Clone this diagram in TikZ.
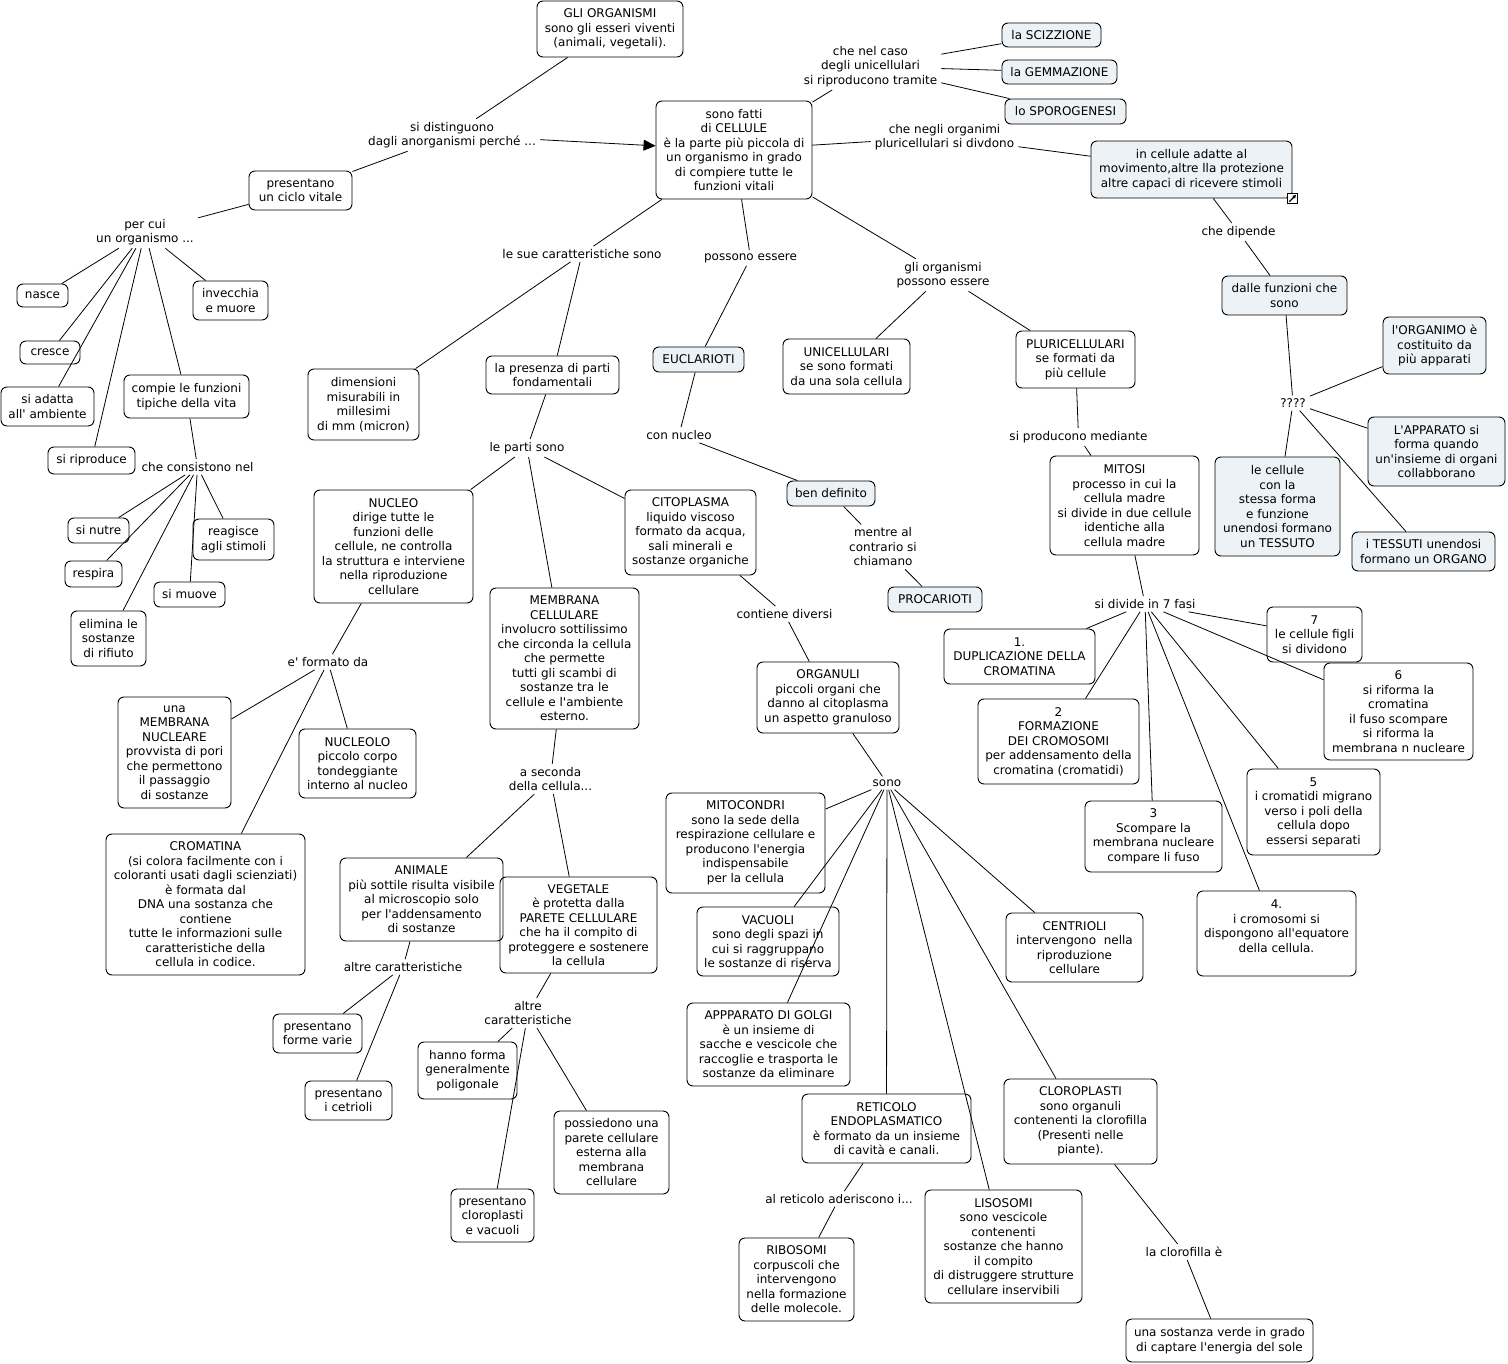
\documentclass[tikz,border=0pt]{standalone}
\usepackage{fontspec}
\setmainfont{DejaVu Sans}[Ligatures=TeXOff]
\usetikzlibrary{arrows.meta, positioning}
\definecolor{pale}{RGB}{236,242,245}

\begin{document}
\begin{tikzpicture}[
    x=1pt, y=-1pt,
    font=\fontsize{12}{14.5}\selectfont,
    box/.style={draw, rounded corners=6pt, line width=0.9pt, align=center, inner sep=1pt},
    pbox/.style={box, fill=pale},
    wh/.style 2 args={minimum width=#1pt, minimum height=#2pt},
    lnk/.style={align=center, inner xsep=4pt, inner ysep=3pt},
    ln/.style={line width=0.8pt},
    ar/.style={ln, -{Triangle[length=12pt, width=11pt]}}
]
\useasboundingbox (0,0) rectangle (1508,1364);

\node[box, wh={146}{56}] (gli) at (610,29) {GLI ORGANISMI\\sono gli esseri viventi\\(animali, vegetali).};
\node[box, wh={156}{98}] (cellule) at (734,150) {sono fatti\\di CELLULE\\è la parte più piccola di\\un organismo in grado\\di compiere tutte le\\funzioni vitali};
\node[box, wh={103}{39}] (ciclo) at (300.5,190.5) {presentano\\un ciclo vitale};
\node[box, wh={51}{23}] (nasce) at (42.5,295.5) {nasce};
\node[box, wh={60}{23}] (cresce) at (50,352.5) {cresce};
\node[box, wh={93}{39}] (adatta) at (47.5,406.5) {si adatta\\all' ambiente};
\node[box, wh={75}{39}] (invecchia) at (230.5,300.5) {invecchia\\e muore};
\node[box, wh={87}{27}] (riproduce) at (91.5,460.5) {si riproduce};
\node[box, wh={125}{43}] (compie) at (186.5,396.5) {compie le funzioni\\tipiche della vita};
\node[box, wh={61}{25}] (nutre) at (98.5,530.5) {si nutre};
\node[box, wh={57}{26}] (respira) at (93.5,574) {respira};
\node[box, wh={81}{41}] (reagisce) at (233.5,539.5) {reagisce\\agli stimoli};
\node[box, wh={71}{25}] (muove) at (189.5,594.5) {si muove};
\node[box, wh={75}{55}] (elimina) at (108.5,638.5) {elimina le\\sostanze\\di rifiuto};
\node[box, wh={111}{71}] (dimens) at (363.5,404.5) {dimensioni\\misurabili in\\millesimi\\di mm (micron)};
\node[box, wh={133}{38}] (presenza) at (552.5,375) {la presenza di parti\\fondamentali};
\node[pbox, wh={91}{25}] (eucl) at (698.5,359.5) {EUCLARIOTI};
\node[box, wh={127}{55}] (unicell) at (846.5,366.5) {UNICELLULARI\\se sono formati\\da una sola cellula};
\node[box, wh={119}{57}] (pluri) at (1075.5,359.5) {PLURICELLULARI\\se formati da\\più cellule};
\node[pbox, wh={99}{24}] (sciz) at (1051.5,35) {la SCIZZIONE};
\node[pbox, wh={115}{24}] (gemm) at (1059.5,72) {la GEMMAZIONE};
\node[pbox, wh={121}{25}] (sporo) at (1065.5,111.5) {lo SPOROGENESI};
\node[pbox, wh={201}{57}] (incell) at (1191.5,169.5) {in cellule adatte al\\movimento,altre lla protezione\\altre capaci di ricevere stimoli};
\node[draw, fill=white, line width=0.9pt, minimum size=10pt, inner sep=0pt] (icon) at (incell.south east) {};
\node[pbox, wh={125}{39}] (dalle) at (1284.5,295.5) {dalle funzioni che\\sono};
\node[pbox, wh={103}{57}] (organimo) at (1434.5,345.5) {l'ORGANIMO è\\costituito da\\più apparati};
\node[pbox, wh={137}{69}] (apparato) at (1436.5,451.5) {L'APPARATO si\\forma quando\\un'insieme di organi\\collabborano};
\node[pbox, wh={125}{99}] (tessuto) at (1277.5,506.5) {le cellule\\con la\\stessa forma\\e funzione\\unendosi formano\\un TESSUTO};
\node[pbox, wh={143}{39}] (organo) at (1423.5,551.5) {i TESSUTI unendosi\\formano un ORGANO};
\node[box, wh={149}{99}] (mitosi) at (1124.5,505.5) {MITOSI\\processo in cui la\\cellula madre\\si divide in due cellule\\identiche alla\\cellula madre};
\node[box, wh={159}{113}] (nucleo) at (393.5,546.5) {NUCLEO\\dirige tutte le\\funzioni delle\\cellule, ne controlla\\la struttura e interviene\\nella riproduzione\\cellulare};
\node[box, wh={131}{85}] (citopl) at (690.5,532.5) {CITOPLASMA\\liquido viscoso\\formato da acqua,\\sali minerali e\\sostanze organiche};
\node[pbox, wh={88}{25}] (bendef) at (831,493.5) {ben definito};
\node[pbox, wh={94}{25}] (procar) at (935,599.5) {PROCARIOTI};
\node[box, wh={149}{141}] (membrana) at (564.5,658.5) {MEMBRANA\\CELLULARE\\involucro sottilissimo\\che circonda la cellula\\che permette\\tutti gli scambi di\\sostanze tra le\\cellule e l'ambiente\\esterno.};
\node[box, wh={142}{71}] (organuli) at (828,697.5) {ORGANULI\\piccoli organi che\\danno al citoplasma\\un aspetto granuloso};
\node[box, wh={151}{55}] (fase1) at (1019.5,656.5) {1.\\DUPLICAZIONE DELLA\\CROMATINA};
\node[box, wh={95}{55}] (fase7) at (1314.5,634.5) {7\\le cellule figli\\si dividono};
\node[box, wh={161}{85}] (fase2) at (1058.5,741.5) {2\\FORMAZIONE\\DEI CROMOSOMI\\per addensamento della\\cromatina (cromatidi)};
\node[box, wh={149}{97}] (fase6) at (1398.5,711.5) {6\\si riforma la\\cromatina\\il fuso scompare\\si riforma la\\membrana n nucleare};
\node[box, wh={137}{71}] (fase3) at (1153.5,836.5) {3\\Scompare la\\membrana nucleare\\compare li fuso};
\node[box, wh={133}{86}] (fase5) at (1313.5,812) {5\\i cromatidi migrano\\verso i poli della\\cellula dopo\\essersi separati};
\node[box, wh={159}{85}] (fase4) at (1276.5,933.5) {4.\\i cromosomi si\\dispongono all'equatore\\della cellula.\\~};
\node[box, wh={113}{111}] (membnucl) at (174.5,752.5) {una\\MEMBRANA\\NUCLEARE\\provvista di pori\\che permettono\\il passaggio\\di sostanze};
\node[box, wh={117}{69}] (nucleolo) at (357.5,763.5) {NUCLEOLO\\piccolo corpo\\tondeggiante\\interno al nucleo};
\node[box, wh={199}{141}] (cromatina) at (205.5,904.5) {CROMATINA\\(si colora facilmente con i\\coloranti usati dagli scienziati)\\è formata dal\\DNA una sostanza che\\contiene\\tutte le informazioni sulle\\caratteristiche della\\cellula in codice.};
\node[box, wh={159}{100}] (mitocondri) at (745.5,843) {MITOCONDRI\\sono la sede della\\respirazione cellulare e\\producono l'energia\\indispensabile\\per la cellula};
\node[box, wh={163}{83}] (animale) at (421.5,899.5) {ANIMALE\\più sottile risulta visibile\\al microscopio solo\\per l'addensamento\\di sostanze};
\node[box, wh={157}{96}] (vegetale) at (578.5,925) {VEGETALE\\è protetta dalla\\PARETE CELLULARE\\che ha il compito di\\proteggere e sostenere\\la cellula};
\node[box, wh={142}{69}] (vacuoli) at (768,941.5) {VACUOLI\\sono degli spazi in\\cui si raggruppano\\le sostanze di riserva};
\node[box, wh={137}{69}] (centrioli) at (1074.5,947.5) {CENTRIOLI\\intervengono\ \ nella\\riproduzione\\cellulare};
\node[box, wh={163}{83}] (golgi) at (768.5,1044.5) {APPPARATO DI GOLGI\\è un insieme di\\sacche e vescicole che\\raccoglie e trasporta le\\sostanze da eliminare};
\node[box, wh={89}{39}] (formevarie) at (317.5,1033.5) {presentano\\forme varie};
\node[box, wh={87}{39}] (cetrioli) at (348.5,1100.5) {presentano\\i cetrioli};
\node[box, wh={99}{57}] (poligon) at (467.5,1070.5) {hanno forma\\generalmente\\poligonale};
\node[box, wh={115}{83}] (possied) at (611.5,1152.5) {possiedono una\\parete cellulare\\esterna alla\\membrana\\cellulare};
\node[box, wh={83}{53}] (clorovac) at (492.5,1215.5) {presentano\\cloroplasti\\e vacuoli};
\node[box, wh={169}{69}] (reticolo) at (886.5,1128.5) {RETICOLO\\ENDOPLASMATICO\\è formato da un insieme\\di cavità e canali.};
\node[box, wh={153}{85}] (cloropl) at (1080.5,1121.5) {CLOROPLASTI\\sono organuli\\contenenti la clorofilla\\(Presenti nelle\\piante).};
\node[box, wh={115}{83}] (ribosomi) at (796.5,1279.5) {RIBOSOMI\\corpuscoli che\\intervengono\\nella formazione\\delle molecole.};
\node[box, wh={157}{113}] (lisosomi) at (1003.5,1246.5) {LISOSOMI\\sono vescicole\\contenenti\\sostanze che hanno\\il compito\\di distruggere strutture\\cellulare inservibili};
\node[box, wh={187}{43}] (sostverde) at (1219.5,1340.5) {una sostanza verde in grado\\di captare l'energia del sole};

\node[lnk] (distingue) at (452,135) {si distinguono\\dagli anorganismi perché ...};
\node[lnk] (percui) at (145,232) {per cui\\un organismo ...};
\node[lnk] (consistono) at (197.5,467) {che consistono nel};
\node[lnk] (caratt) at (582,254) {le sue caratteristiche sono};
\node[lnk] (possono) at (750.5,258) {possono essere};
\node[lnk] (gliorg) at (943,275) {gli organismi\\possono essere};
\node[lnk] (nelcaso) at (870.5,66.5) {che nel caso\\degli unicellulari\\si riproducono tramite};
\node[lnk] (negli) at (944.5,137) {che negli organimi\\pluricellulari si divdono};
\node[lnk] (dipende) at (1238.5,232) {che dipende};
\node[lnk] (quest) at (1293,403) {????};
\node[lnk] (mediante) at (1078.5,437) {si producono mediante};
\node[lnk] (fasi) at (1145,604) {si divide in 7 fasi};
\node[lnk] (parti) at (527,448) {le parti sono};
\node[lnk] (connucleo) at (679,435) {con nucleo};
\node[lnk] (mentre) at (883,547) {mentre al\\contrario si\\chiamano};
\node[lnk] (eformato) at (328,662) {e' formato da};
\node[lnk] (contiene) at (784.5,614) {contiene diversi};
\node[lnk] (aseconda) at (550.5,779) {a seconda\\della cellula...};
\node[lnk] (sono) at (887,783) {sono};
\node[lnk] (altrea) at (403,967) {altre caratteristiche};
\node[lnk] (altrev) at (528,1013) {altre\\caratteristiche};
\node[lnk] (aderisc) at (839,1199) {al reticolo aderiscono i...};
\node[lnk] (clorof) at (1184,1252) {la clorofilla è};

\draw[line width=1.2pt, -{Triangle[length=3.5pt, width=3.5pt]}] ([shift={(2.2pt,2.2pt)}]icon.south west) -- ([shift={(-1.8pt,-1.8pt)}]icon.north east);

\draw[ln] (gli) -- (distingue);
\draw[ar] (distingue) -- (cellule);
\draw[ln] (distingue) -- (ciclo);
\draw[ln] (ciclo) -- (percui);
\foreach \t in {nasce, cresce, adatta, riproduce, compie, invecchia}
    \draw[ln] (percui) -- (\t);
\draw[ln] (compie) -- (consistono);
\foreach \t in {nutre, respira, elimina, muove, reagisce}
    \draw[ln] (consistono) -- (\t);
\draw[ln] (cellule) -- (caratt);
\draw[ln] (caratt) -- (dimens);
\draw[ln] (caratt) -- (presenza);
\draw[ln] (cellule) -- (possono);
\draw[ln] (possono) -- (eucl);
\draw[ln] (cellule) -- (gliorg);
\draw[ln] (gliorg) -- (unicell);
\draw[ln] (gliorg) -- (pluri);
\draw[ln] (cellule) -- (nelcaso);
\foreach \t in {sciz, gemm, sporo}
    \draw[ln] (nelcaso) -- (\t);
\draw[ln] (cellule) -- (negli);
\draw[ln] (negli) -- (incell);
\draw[ln] (incell) -- (dipende);
\draw[ln] (dipende) -- (dalle);
\draw[ln] (dalle) -- (quest);
\foreach \t in {organimo, apparato, tessuto, organo}
    \draw[ln] (quest) -- (\t);
\draw[ln] (pluri) -- (mediante);
\draw[ln] (mediante) -- (mitosi);
\draw[ln] (mitosi) -- (fasi);
\foreach \t in {fase1, fase2, fase3, fase4, fase5, fase6, fase7}
    \draw[ln] (fasi) -- (\t);
\draw[ln] (presenza) -- (parti);
\foreach \t in {nucleo, membrana, citopl}
    \draw[ln] (parti) -- (\t);
\draw[ln] (eucl) -- (connucleo);
\draw[ln] (connucleo) -- (bendef);
\draw[ln] (bendef) -- (mentre);
\draw[ln] (mentre) -- (procar);
\draw[ln] (nucleo) -- (eformato);
\foreach \t in {membnucl, cromatina, nucleolo}
    \draw[ln] (eformato) -- (\t);
\draw[ln] (citopl) -- (contiene);
\draw[ln] (contiene) -- (organuli);
\draw[ln] (organuli) -- (sono);
\foreach \t in {mitocondri, vacuoli, golgi, reticolo, lisosomi, cloropl, centrioli}
    \draw[ln] (sono) -- (\t);
\draw[ln] (membrana) -- (aseconda);
\draw[ln] (aseconda) -- (animale);
\draw[ln] (aseconda) -- (vegetale);
\draw[ln] (animale) -- (altrea);
\draw[ln] (altrea) -- (formevarie);
\draw[ln] (altrea) -- (cetrioli);
\draw[ln] (vegetale) -- (altrev);
\foreach \t in {poligon, clorovac, possied}
    \draw[ln] (altrev) -- (\t);
\draw[ln] (reticolo) -- (aderisc);
\draw[ln] (aderisc) -- (ribosomi);
\draw[ln] (cloropl) -- (clorof);
\draw[ln] (clorof) -- (sostverde);
\end{tikzpicture}
\end{document}
